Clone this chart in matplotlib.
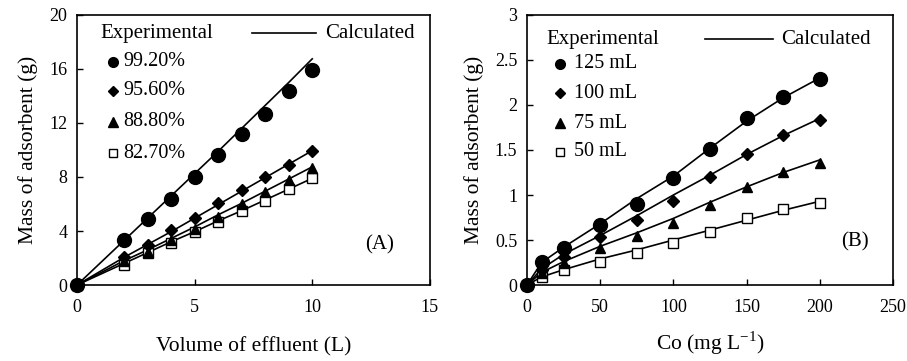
import matplotlib
matplotlib.use("Agg")
import matplotlib.pyplot as plt

plt.rcParams['font.family'] = ['Liberation Serif', 'DejaVu Serif']
plt.rcParams['mathtext.fontset'] = 'custom'
plt.rcParams['mathtext.rm'] = 'Liberation Serif'

# panel A: volume of effluent (L)
vol = [0, 2, 3, 4, 5, 6, 7, 8, 9, 10]
a_labels = ['99.20%', '95.60%', '88.80%', '82.70%']
a_exp = [
    [0, 3.3, 4.9, 6.4, 8.0, 9.6, 11.2, 12.7, 14.4, 15.95],
    [0, 2.1, 2.95, 4.05, 5.0, 6.05, 7.0, 8.0, 8.9, 9.9],
    [0, 1.75, 2.45, 3.3, 4.15, 5.05, 6.0, 6.9, 7.8, 8.65],
    [0, 1.5, 2.4, 3.1, 3.9, 4.7, 5.45, 6.25, 7.1, 7.9],
]
a_calc = [
    [0, 3.3, 4.95, 6.6, 8.25, 9.9, 11.6, 13.3, 15.0, 16.75],
    [0, 2.05, 3.0, 3.95, 4.95, 5.95, 6.95, 7.95, 8.95, 9.95],
    [0, 1.8, 2.6, 3.45, 4.3, 5.2, 6.05, 6.95, 7.85, 8.75],
    [0, 1.6, 2.4, 3.2, 3.95, 4.75, 5.5, 6.3, 7.1, 7.9],
]

# panel B: initial concentration (mg/L)
conc = [0, 10, 25, 50, 75, 100, 125, 150, 175, 200]
b_labels = ['125 mL', '100 mL', '75 mL', '50 mL']
b_exp = [
    [0, 0.26, 0.41, 0.67, 0.90, 1.19, 1.51, 1.85, 2.09, 2.29],
    [0, 0.17, 0.31, 0.53, 0.72, 0.93, 1.2, 1.46, 1.67, 1.83],
    [0, 0.13, 0.24, 0.41, 0.54, 0.69, 0.89, 1.09, 1.25, 1.36],
    [0, 0.09, 0.17, 0.26, 0.36, 0.47, 0.59, 0.74, 0.84, 0.91],
]
b_calc = [
    [0, 0.25, 0.42, 0.68, 0.96, 1.21, 1.52, 1.82, 2.08, 2.3],
    [0, 0.18, 0.34, 0.55, 0.77, 1.0, 1.22, 1.45, 1.66, 1.85],
    [0, 0.14, 0.26, 0.43, 0.58, 0.74, 0.92, 1.09, 1.25, 1.39],
    [0, 0.09, 0.17, 0.29, 0.39, 0.5, 0.61, 0.72, 0.83, 0.93],
]

markers = ['o', 'D', '^', 's']
msizes = [10, 6, 7.5, 6.5]
leg_ms = [7, 5.5, 7, 6]
faces = ['black', 'black', 'black', 'white']

fig = plt.figure(figsize=(9.07, 3.61), dpi=100)
axA = fig.add_axes([0.0849, 0.2105, 0.389, 0.748])
axB = fig.add_axes([0.581, 0.2105, 0.4035, 0.748])


def draw(ax, x, exp, calc, labels, leg):
    # reversed so the filled circles sit on top at the origin
    for i in range(3, -1, -1):
        ax.plot(x, calc[i], color='black', lw=1.2, zorder=2)
        ax.plot(x, exp[i], linestyle='none', marker=markers[i], ms=msizes[i],
                mfc=faces[i], mec='black', mew=1.0, zorder=3, clip_on=False)
    ex, lx0, lx1, cx, mx, tx, ys = leg
    ax.text(ex, ys[0], 'Experimental', transform=ax.transAxes, fontsize=15,
            va='center', ha='left')
    ax.plot([lx0, lx1], [ys[0], ys[0]], transform=ax.transAxes, color='black', lw=1.2)
    ax.text(cx, ys[0], 'Calculated', transform=ax.transAxes, fontsize=15,
            va='center', ha='left')
    for i in range(4):
        ax.plot([mx], [ys[i + 1]], transform=ax.transAxes, linestyle='none',
                marker=markers[i], ms=leg_ms[i], mfc=faces[i], mec='black', mew=1.0)
        ax.text(tx, ys[i + 1], labels[i], transform=ax.transAxes, fontsize=14.5,
                va='center', ha='left')
    ax.tick_params(direction='in', length=4, width=1.0, labelsize=13, top=False, right=False)
    ax.tick_params(axis='x', pad=10)
    ax.tick_params(axis='y', pad=7)
    ax.set_ylabel('Mass of adsorbent (g)', fontsize=15.5, labelpad=8)
    for s in ax.spines.values():
        s.set_linewidth(1.2)


draw(axA, vol, a_exp, a_calc, a_labels,
     (0.065, 0.495, 0.678, 0.703, 0.101, 0.131, [0.933, 0.827, 0.72, 0.605, 0.488]))
axA.set_xlim(0, 15)
axA.set_ylim(0, 20)
axA.set_xticks([0, 5, 10, 15])
axA.set_yticks([0, 4, 8, 12, 16, 20])
axA.set_xlabel('Volume of effluent (L)', fontsize=15.5, labelpad=15)
axA.text(0.858, 0.148, '(A)', transform=axA.transAxes, fontsize=15, ha='center', va='center')

draw(axB, conc, b_exp, b_calc, b_labels,
     (0.054, 0.486, 0.673, 0.694, 0.09, 0.128, [0.91, 0.819, 0.71, 0.599, 0.494]))
axB.set_xlim(0, 250)
axB.set_ylim(0, 3)
axB.set_xticks([0, 50, 100, 150, 200, 250])
axB.set_yticks([0, 0.5, 1, 1.5, 2, 2.5, 3])
axB.set_yticklabels(['0', '0.5', '1', '1.5', '2', '2.5', '3'])
axB.set_xlabel('Co (mg L$^{\\mathregular{-1}}$)', fontsize=15.5, labelpad=10)
axB.text(0.896, 0.16, '(B)', transform=axB.transAxes, fontsize=15, ha='center', va='center')

fig.savefig('out.png', dpi=100)
